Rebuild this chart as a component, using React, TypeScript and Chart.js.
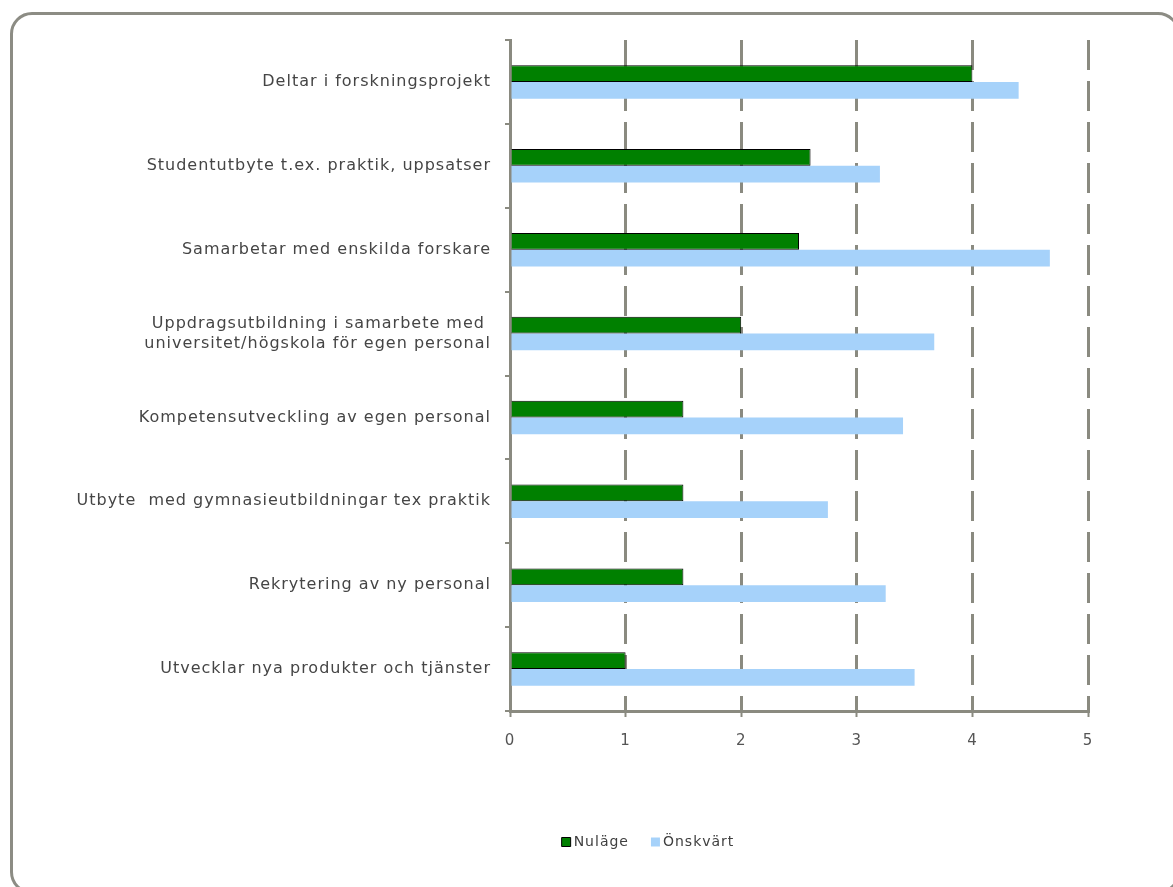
import React, { useEffect, useRef } from "react";
import { Chart, registerables } from "chart.js";

Chart.register(...registerables);

const categories: (string | string[])[] = [
  "Deltar i forskningsprojekt",
  "Studentutbyte t.ex. praktik, uppsatser",
  "Samarbetar med enskilda forskare",
  ["Uppdragsutbildning i samarbete med ", "universitet/högskola för egen personal"],
  "Kompetensutveckling av egen personal",
  "Utbyte  med gymnasieutbildningar tex praktik",
  "Rekrytering av ny personal",
  "Utvecklar nya produkter och tjänster",
];

const nulage = [4.0, 2.6, 2.5, 2.0, 1.5, 1.5, 1.5, 1.0];
const onskvart = [4.4, 3.2, 4.67, 3.67, 3.4, 2.75, 3.25, 3.5];

const seriesNames = ["Nuläge", "Önskvärt"];
const xTicks = [0, 1, 2, 3, 4, 5];

const FONT = "'DejaVu Sans', Verdana, sans-serif";
const GREY = "#8a8a80";

const spacingPlugin = {
  id: "letterSpacing",
  beforeDraw(chart: any) {
    chart.ctx.letterSpacing = "1px";
  },
};

const legendShift = {
  id: "legendShift",
  afterLayout(chart: any) {
    const lg = chart.legend;
    if (!lg) return;
    const dx = 99;
    const dy = -16;
    lg.left += dx;
    lg.right += dx;
    lg.top += dy;
    lg.bottom += dy;
  },
};

export default function App() {
  const ref = useRef<HTMLCanvasElement>(null);

  useEffect(() => {
    if (!ref.current) return;
    const chart = new Chart(ref.current, {
      type: "bar",
      data: {
        labels: categories,
        datasets: [
          {
            label: seriesNames[0],
            data: nulage,
            backgroundColor: "#008000",
            borderColor: "#000000",
            borderWidth: 1,
            categoryPercentage: 0.4,
            barPercentage: 1.0,
          },
          {
            label: seriesNames[1],
            data: onskvart,
            backgroundColor: "#a6d2fa",
            borderColor: "#a6d2fa",
            borderWidth: 0,
            categoryPercentage: 0.4,
            barPercentage: 1.0,
          },
        ],
      },
      plugins: [spacingPlugin, legendShift],
      options: {
        indexAxis: "y",
        animation: false,
        responsive: false,
        maintainAspectRatio: false,
        layout: { padding: { top: 40, right: 85, bottom: 12, left: 0 } },
        plugins: {
          tooltip: { enabled: false },
          legend: {
            position: "bottom",
            labels: {
              usePointStyle: true,
              pointStyle: "rect",
              boxWidth: 1,
              boxHeight: 9,
              padding: 26,
              color: "#404040",
              font: { family: FONT, size: 14 },
            },
          },
        },
        scales: {
          x: {
            min: xTicks[0],
            max: xTicks[xTicks.length - 1],
            afterBuildTicks: (s: any) => {
              s.ticks = xTicks.map((v) => ({ value: v }));
            },
            ticks: {
              stepSize: 1,
              color: "#555555",
              padding: 15,
              font: { family: FONT, size: 15 },
            },
            grid: {
              color: GREY,
              lineWidth: 3,
              tickBorderDash: [],
              tickLength: 6,
              tickColor: GREY,
              tickWidth: 2,
            },
            border: { color: GREY, width: 3, dash: [30, 11] },
            afterFit: (s: any) => {
              s.height = 114;
            },
          },
          y: {
            ticks: {
              color: "#454545",
              padding: 14,
              font: { family: FONT, size: 16, lineHeight: 1.25 },
            },
            grid: {
              offset: true,
              drawOnChartArea: false,
              tickLength: 5,
              color: GREY,
              lineWidth: 2,
            },
            border: { color: GREY, width: 3 },
            afterFit: (s: any) => {
              s.width = 510;
            },
          },
        },
      },
    });
    return () => chart.destroy();
  }, []);

  return (
    <div
      style={{
        position: "absolute",
        left: 0,
        top: 0,
        width: 1173,
        height: 887,
        overflow: "hidden",
        background: "#ffffff",
      }}
    >
      <div
        style={{
          position: "absolute",
          left: 10,
          top: 12,
          width: 1170,
          height: 882,
          border: "3px solid #8c8c84",
          borderRadius: 22,
          boxSizing: "border-box",
        }}
      />
      <canvas
        ref={ref}
        width={1173}
        height={887}
        style={{ position: "absolute", left: 0, top: 0, width: 1173, height: 887 }}
      />
    </div>
  );
}
